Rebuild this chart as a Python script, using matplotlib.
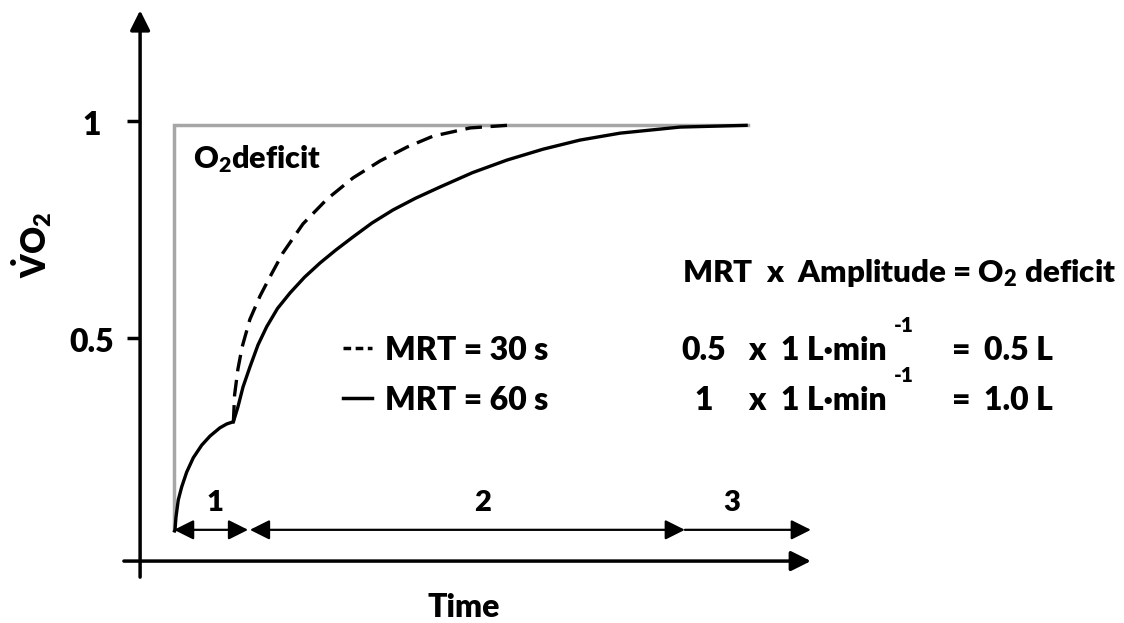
import numpy as np
import matplotlib.pyplot as plt

# Fonte em negrito parecida com a do original
plt.rcParams['font.family'] = ['Lato', 'DejaVu Sans']
plt.rcParams['font.weight'] = 'heavy'
plt.rcParams['mathtext.fontset'] = 'custom'
plt.rcParams['mathtext.rm'] = 'Lato:heavy'
plt.rcParams['mathtext.it'] = 'Lato:heavy'
plt.rcParams['mathtext.bf'] = 'Lato:heavy'

# Dados (tempo em s, VO2 relativo)
t_fase1 = [0, 0.33, 0.67, 1.43, 2.57, 4.23, 6.43, 9.23, 12, 15.3, 17.6, 19.8]
vo2_fase1 = [0.052, 0.058, 0.088, 0.127, 0.157, 0.191, 0.224, 0.253, 0.274, 0.293, 0.302, 0.307]

t_mrt60 = [19.8, 21.3, 23, 25.3, 28, 30.9, 34.5, 38.7, 43.5, 48.7, 54, 59.7, 66, 73, 80.5,
           88.7, 99.5, 111, 123, 135.3, 148.7, 168.7, 190.7]
vo2_mrt60 = [0.307, 0.341, 0.387, 0.433, 0.484, 0.526, 0.568, 0.604, 0.640, 0.673, 0.703, 0.733,
             0.765, 0.795, 0.822, 0.848, 0.881, 0.910, 0.935, 0.956, 0.972, 0.986, 0.99]

t_mrt30 = [19.8, 20.2, 21.3, 22.7, 25.3, 28.7, 32, 36.3, 43, 51, 59.7, 68.7, 77.7, 86.3, 98.7, 111]
vo2_mrt30 = [0.307, 0.369, 0.428, 0.479, 0.543, 0.597, 0.641, 0.696, 0.763, 0.820, 0.869, 0.908,
             0.940, 0.965, 0.984, 0.99]

# Déficit de O2 (contorno cinza): início e platô
t_deficit = [0, 0, 191.3]
vo2_deficit = [0.058, 0.99, 0.99]

# Fases (limites em s) e rótulos
fases_lim = [0, 24.7, 25.3, 170.3, 170.3, 212.3]
fases_rotulos = ['1', '2', '3']
fases_pos = [13.7, 103, 186]

ticks_y = [1, 0.5]
ticks_y_rotulos = ['1', '0.5']

legenda = ['MRT = 30 s', 'MRT = 60 s']
coef = ['0.5', '1']
resultado = ['0.5 L', '1.0 L']

fig = plt.figure(figsize=(11.24, 6.23), dpi=100)
ax = fig.add_axes([0, 0, 1, 1])
ax.set_xlim(-58, 316.67)
ax.set_ylim(-0.1567, 1.2788)
ax.axis('off')

seta = '-|>,head_length=0.6,head_width=0.3'

# Eixos desenhados com setas
ax.annotate('', xy=(212.3, -0.014), xytext=(-16.7, -0.014),
            arrowprops=dict(arrowstyle=seta, mutation_scale=20, lw=2.5, color='black',
                            shrinkA=0, shrinkB=0))
ax.annotate('', xy=(-11.3, 1.255), xytext=(-11.3, -0.051),
            arrowprops=dict(arrowstyle=seta, mutation_scale=20, lw=2.5, color='black',
                            shrinkA=0, shrinkB=0))
for yv, rot in zip(ticks_y, ticks_y_rotulos):
    ax.plot([-15.7, -11.3], [yv, yv], color='black', lw=2.5, solid_capstyle='butt')
    ax.text(-27.5, yv - 0.01, rot, ha='center', va='center', fontsize=23)

# Curvas
ax.plot(t_deficit, vo2_deficit, color='#a6a6a6', lw=2.5, solid_joinstyle='miter')
ax.plot(t_mrt30, vo2_mrt30, color='black', lw=2.4, linestyle=(0, (5, 2.6)))
ax.plot(t_fase1, vo2_fase1, color='black', lw=2.4, solid_capstyle='butt')
ax.plot(t_mrt60, vo2_mrt60, color='black', lw=2.4)

# Setas das fases
estilos = ['<|-|>', '<|-|>', '-|>']
for i in range(3):
    ax.annotate('', xy=(fases_lim[2 * i + 1], 0.058), xytext=(fases_lim[2 * i], 0.058),
                arrowprops=dict(arrowstyle=estilos[i] + ',head_length=0.6,head_width=0.3',
                                mutation_scale=20, lw=1.6, color='black', shrinkA=0, shrinkB=0))
    ax.text(fases_pos[i], 0.12, fases_rotulos[i], ha='center', va='center', fontsize=21)

# Textos
ax.text(6.3, 0.892, r'$\mathrm{O_2}$deficit', ha='left', va='baseline', fontsize=22)
ax.text(-47.5, 0.714, r'$\mathrm{\dot{V}O_2}$', rotation=90, ha='center', va='center', fontsize=24)
ax.text(96.7, -0.122, 'Time', ha='center', va='center', fontsize=23)

ax.text(169.3, 0.629, r'MRT  x  Amplitude = O$_2$ deficit', ha='left', va='baseline', fontsize=22.5)

linhas_y = [0.449, 0.334]
ax.plot([56.3, 66], [linhas_y[0] + 0.028] * 2, color='black', lw=2.5, linestyle=(0, (2.2, 1.3)))
ax.plot([56.3, 66], [linhas_y[1] + 0.028] * 2, color='black', lw=2.5)
for i in range(2):
    yb = linhas_y[i]
    ax.text(70.5, yb, legenda[i], ha='left', va='baseline', fontsize=23)
    ax.text(176.5, yb, coef[i], ha='center', va='baseline', fontsize=23)
    ax.text(194.3, yb, 'x', ha='center', va='baseline', fontsize=23)
    ax.text(202.5, yb, '1 L·min', ha='left', va='baseline', fontsize=23)
    ax.text(240, yb + 0.065, '-1', ha='left', va='baseline', fontsize=15)
    ax.text(262.5, yb, '=', ha='center', va='baseline', fontsize=23)
    ax.text(270, yb, resultado[i], ha='left', va='baseline', fontsize=23)

plt.savefig('out.png', dpi=100)
